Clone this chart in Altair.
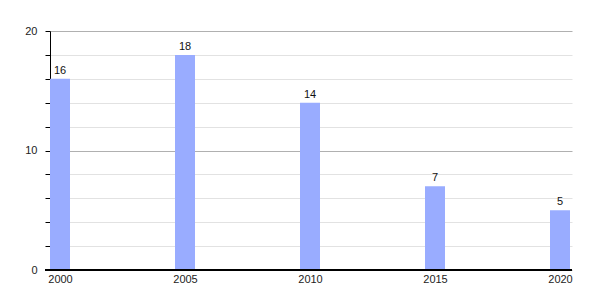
import altair as alt
import pandas as pd

years = [2000, 2005, 2010, 2015, 2020]
values = [16, 18, 14, 7, 5]
y_ticks = [0, 2, 4, 6, 8, 10, 12, 14, 16, 18, 20]

df = pd.DataFrame({"year": years, "value": values})

x_enc = alt.X(
    "year:Q",
    scale=alt.Scale(domain=[1999.6, 2020.48], nice=False, zero=False, padding=0),
    axis=alt.Axis(values=years, format="d", title=None, ticks=False, grid=False,
                  domain=False, labelFont="Liberation Sans", labelFontSize=11,
                  labelColor="#222", labelPadding=3, labelOverlap=False),
)
y_enc = alt.Y(
    "value:Q",
    scale=alt.Scale(domain=[0, 20], nice=False),
    axis=alt.Axis(values=y_ticks, title=None, labelOverlap=False,
                  labelExpr="datum.value % 10 == 0 ? datum.label : ''",
                  labelFont="Liberation Sans", labelFontSize=11, labelColor="#222",
                  labelPadding=8, tickSize=5, tickColor="#000", domainColor="#000",
                  gridColor={"expr": "datum.value % 10 == 0 ? '#b0b0b0' : '#e2e2e2'"},
                  grid=True),
)

base = alt.Chart(df)
bars = base.mark_bar(size=20, color="#99acff").encode(x=x_enc, y=y_enc)
labels = base.mark_text(baseline="bottom", dy=-3, font="Liberation Sans", fontSize=11, color="#111").encode(
    x=x_enc, y=y_enc, text="value:Q")
xline = alt.Chart(df).mark_rule(color="#000", strokeWidth=1.5).encode(
    x=alt.value(-5), x2=alt.value(522), y=alt.value(239))

chart = alt.layer(bars, labels, xline).properties(
    width=522, height=239,
    autosize=alt.AutoSizeParams(type="none"),
    padding={"left": 50, "top": 31, "right": 28, "bottom": 30},
).configure_view(stroke=None)

chart.save("out.html", embed_options={"renderer": "svg", "actions": False})
